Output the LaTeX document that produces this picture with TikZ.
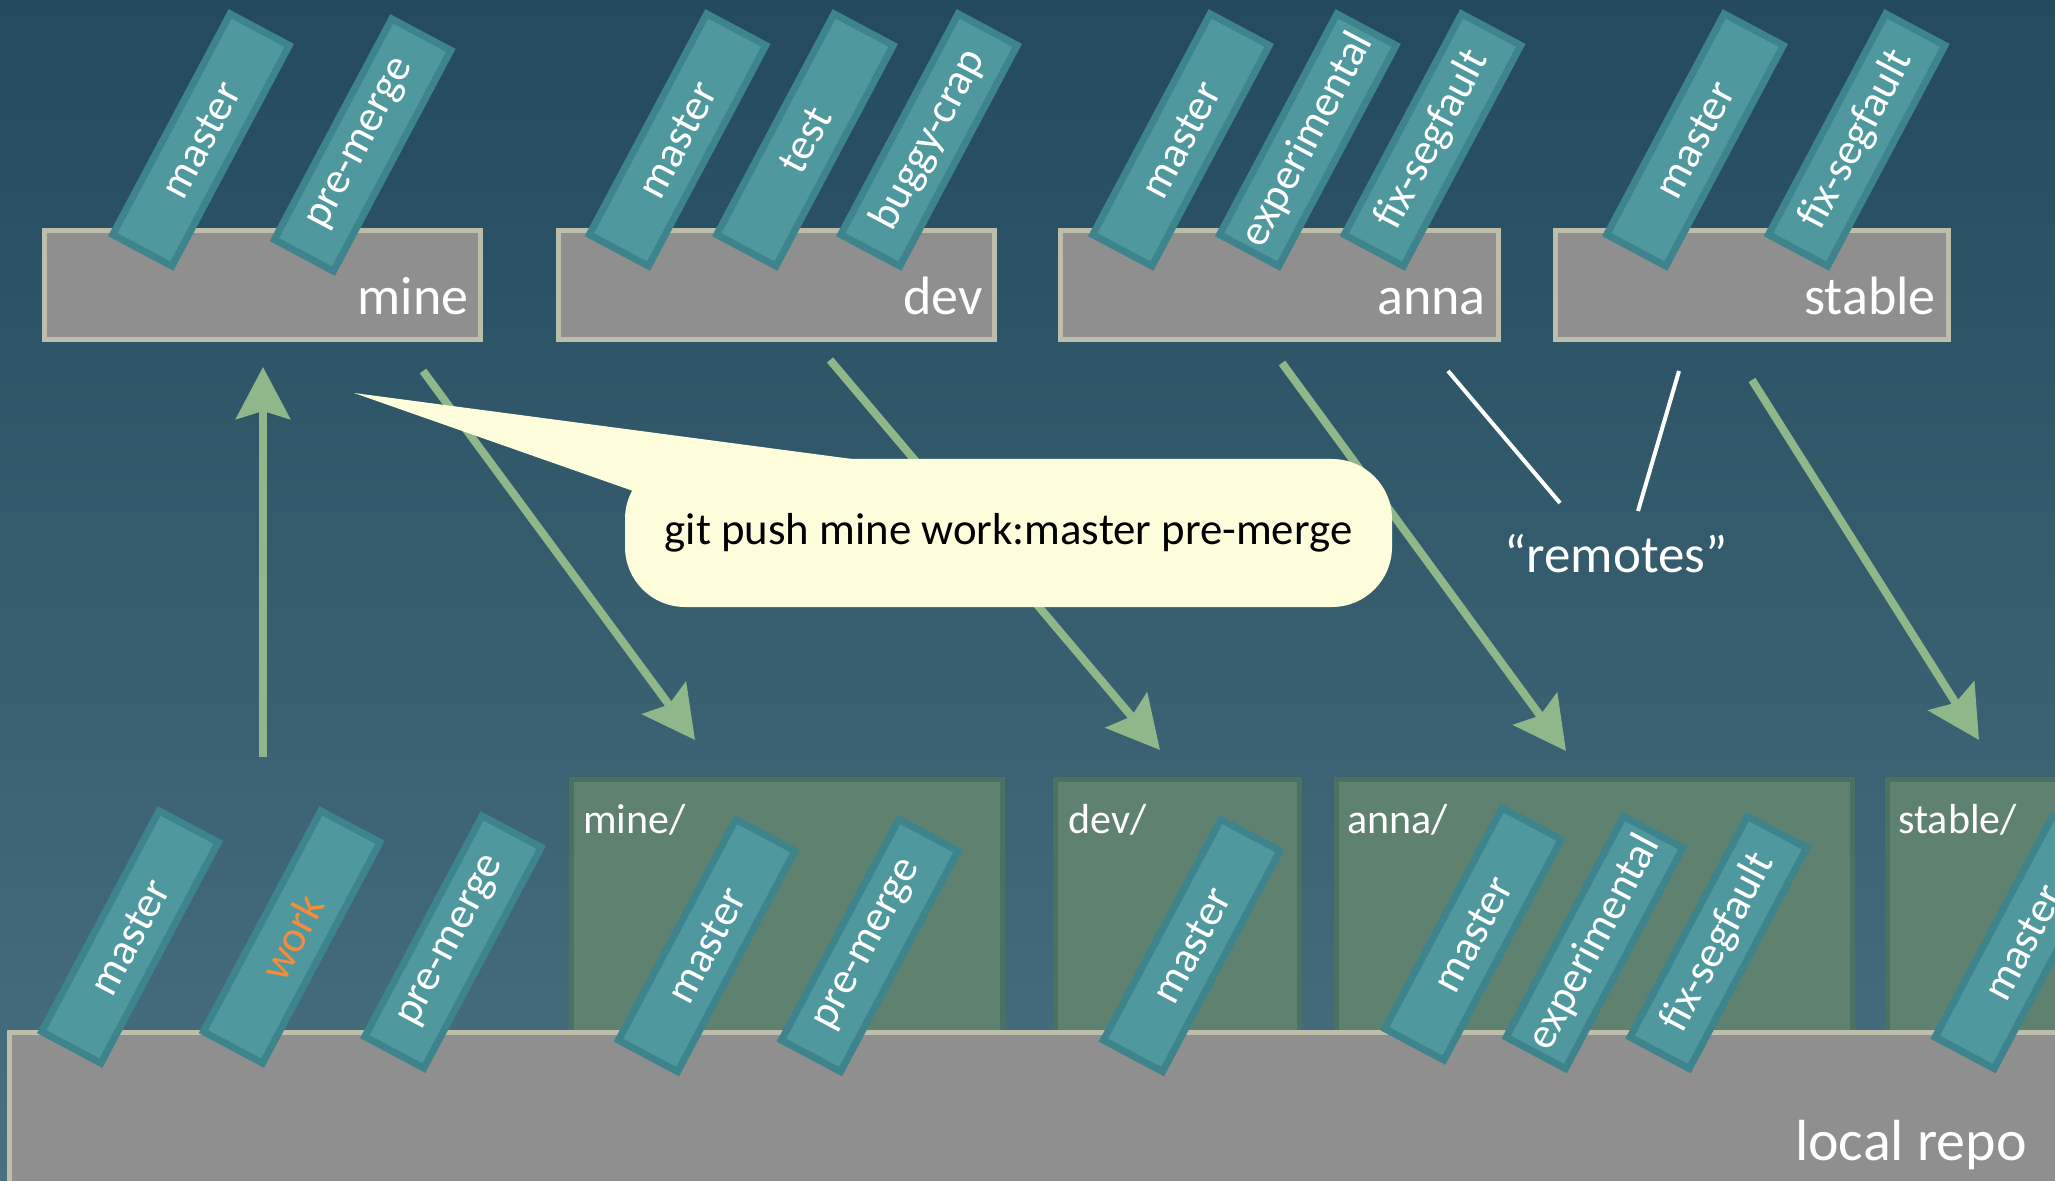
\documentclass[tikz,border=0pt]{standalone}
\usepackage{fontspec}
\setmainfont{Carlito}
\usetikzlibrary{arrows.meta}
\definecolor{bgtop}{HTML}{234A5D}
\definecolor{bgbot}{HTML}{48707F}
\definecolor{boxfill}{HTML}{8F8F8F}
\definecolor{boxline}{HTML}{BDBDAB}
\definecolor{tagfill}{HTML}{4F999E}
\definecolor{tagline}{HTML}{3E848C}
\definecolor{grnfill}{HTML}{5F8270}
\definecolor{grnline}{HTML}{4B7163}
\definecolor{arrowc}{HTML}{8FB78A}
\definecolor{bubblec}{HTML}{FDFDDC}
\definecolor{workc}{HTML}{F58B3C}
\begin{document}
\begin{tikzpicture}[x=0.5pt,y=-0.5pt,
  remotebox/.style={draw=boxline, fill=boxfill, line width=2.5pt, minimum height=54.5pt, inner sep=0pt, anchor=north west},
  grnbox/.style={draw=grnline, fill=grnfill, line width=2.5pt, minimum height=139pt, inner sep=0pt, anchor=north west},
  tagbox/.style={draw=tagline, fill=tagfill, line width=3.5pt, minimum width=125pt, minimum height=33.5pt, inner sep=0pt, rotate=62, text=white, font=\fontsize{22}{26}\selectfont},
  toplabel/.style={text=white, inner sep=0pt, anchor=base east, font=\fontsize{27}{32}\selectfont},
  botlabel/.style={text=white, inner sep=0pt, anchor=base west, font=\fontsize{21}{25}\selectfont},
  arrowline/.style={draw=arrowc, line width=4pt, -{Stealth[length=26pt,width=27pt,inset=4pt]}},
  remline/.style={draw=white, line width=2pt},
]
\path[use as bounding box] (0,0) rectangle (2055,1181);
\clip (0,0) rectangle (2055,1181);
\shade[top color=bgtop, bottom color=bgbot] (0,0) rectangle (2055,1181);

% remote boxes
\node[remotebox, minimum width=218pt] (mine) at (42,228) {};
\node[remotebox, minimum width=218pt] (dev) at (556,228) {};
\node[remotebox, minimum width=219pt] (anna) at (1058,228) {};
\node[remotebox, minimum width=196.5pt] (stable) at (1553,228) {};
\node[toplabel] (lbmine) at (469,315) {mine};
\node[toplabel] (lbdev) at (983,315) {dev};
\node[toplabel] (lbanna) at (1486,315) {anna};
\node[toplabel] (lbstable) at (1936,315) {stable};

% top tags
\node[tagbox] (tmA) at (201,140) {master};
\node[tagbox] (tmB) at (362.6,145) {pre-merge};
\node[tagbox] (tdA) at (677.6,140) {master};
\node[tagbox] (tdB) at (805,140) {test};
\node[tagbox] (tdC) at (929,140) {buggy-crap};
\node[tagbox] (taA) at (1181,140) {master};
\node[tagbox] (taB) at (1307.8,140) {experimental};
\node[tagbox] (taC) at (1432.5,140) {fix-segfault};
\node[tagbox] (tsA) at (1695,140) {master};
\node[tagbox] (tsB) at (1856.7,140) {fix-segfault};

% arrow end points
\coordinate (upS) at (263,757);
\coordinate (upE) at (263,367);
\coordinate (m1S) at (423,371);
\coordinate (m1E) at (695,740);
\coordinate (d1S) at (830,360);
\coordinate (d1E) at (1160,750);
\coordinate (a1S) at (1282,363);
\coordinate (a1E) at (1566,751);
\coordinate (s1S) at (1752,380);
\coordinate (s1E) at (1979,740);
\draw[arrowline] (upS) -- (upE);
\draw[arrowline] (m1S) -- (m1E);
\draw[arrowline] (d1S) -- (d1E);
\draw[arrowline] (a1S) -- (a1E);
\draw[arrowline] (s1S) -- (s1E);

% remotes label
\node[text=white, inner sep=0pt, anchor=base, font=\fontsize{26.5}{31}\selectfont] (remotes) at (1616,573) {“remotes”};
\coordinate (r1) at (1448,371);
\coordinate (r1e) at (1560,503);
\coordinate (r2) at (1679,371);
\coordinate (r2e) at (1638,511);
\draw[remline] (r1) -- (r1e);
\draw[remline] (r2) -- (r2e);

% speech bubble
\coordinate (wtip) at (354,393);
\node[fill=bubblec, rounded corners=30pt, minimum width=383.5pt, minimum height=74pt, inner sep=0pt, font=\fontsize{22.4}{27}\selectfont] (bub) at (1008.5,533) {git push mine work:master pre-merge};
\begin{scope}[on background layer/.try]
\end{scope}
\fill[bubblec] (wtip) -- (852,459) -- (760,500) -- (636,492) -- cycle;

% local tracking boxes
\node[grnbox, minimum width=215.5pt] (rmine) at (569,777) {};
\node[grnbox, minimum width=122pt] (rdev) at (1053,777) {};
\node[grnbox, minimum width=258pt] (ranna) at (1334,777) {};
\node[grnbox, minimum width=147.5pt] (rstable) at (1885,777) {};
\node[botlabel] (lrmine) at (583,833) {mine/};
\node[botlabel] (lrdev) at (1068,833) {dev/};
\node[botlabel] (lranna) at (1347,833) {anna/};
\node[botlabel] (lrstable) at (1898,833) {stable/};

% local repo
\node[draw=boxline, fill=boxfill, line width=2.5pt, minimum width=1100pt, minimum height=120pt, inner sep=0pt, anchor=north west] (local) at (7,1030) {};
\node[text=white, inner sep=0pt, anchor=base east, font=\fontsize{29}{34}\selectfont] (lblocal) at (2027,1160) {local repo};

% bottom tags
\node[tagbox] (bA) at (130,937) {master};
\node[tagbox, text=workc] (bB) at (291.7,937) {work};
\node[tagbox] (bC) at (453,942) {pre-merge};
\node[tagbox] (bmA) at (706.7,945.5) {master};
\node[tagbox] (bmB) at (869.7,945.5) {pre-merge};
\node[tagbox] (bdA) at (1191.7,945.5) {master};
\node[tagbox] (baA) at (1473,934) {master};
\node[tagbox] (baB) at (1594.5,942.5) {experimental};
\node[tagbox] (baC) at (1718.3,942.5) {fix-segfault};
\node[tagbox] (bsA) at (2023.3,942.5) {master};
\end{tikzpicture}
\end{document}
